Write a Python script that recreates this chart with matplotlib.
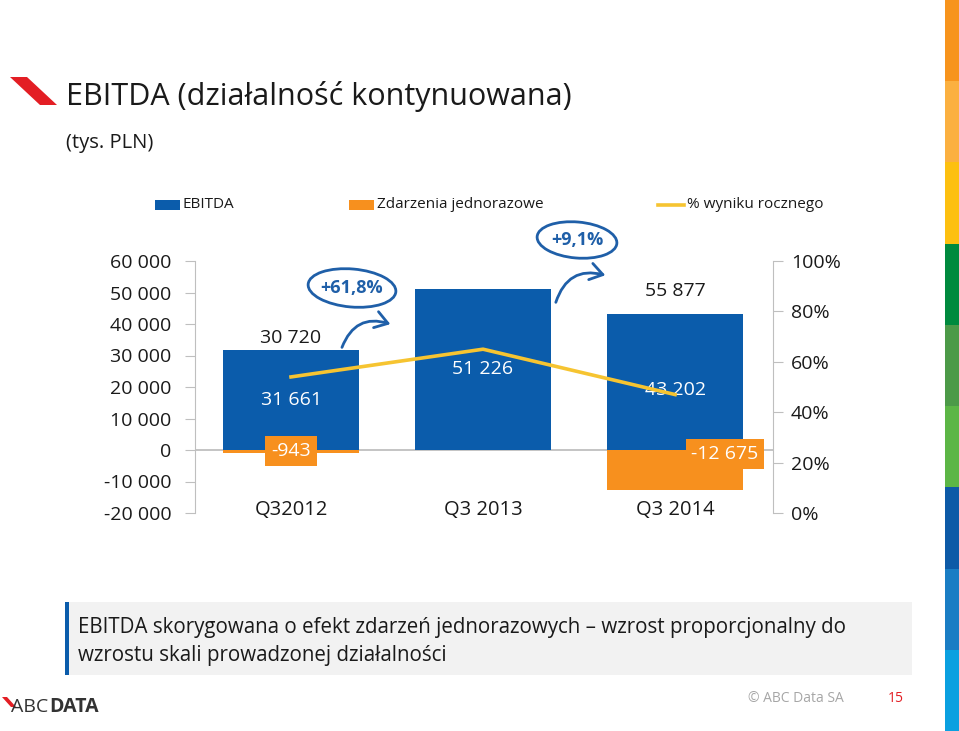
import matplotlib.pyplot as plt
from matplotlib.patches import Rectangle, Polygon, Ellipse, FancyArrowPatch
from matplotlib.ticker import FuncFormatter

# data (tys. PLN)
quarters = ["Q32012", "Q3 2013", "Q3 2014"]
ebitda = [31661, 51226, 43202]
one_off = [-943, 0, -12675]
top_labels = ["30 720", "", "55 877"]
annual_share = [0.54, 0.65, 0.47]
growth = ["+61,8%", "+9,1%"]

BLUE = "#0B5CAB"
ORANGE = "#F7901E"
YELLOW = "#F6C431"
GRAY = "#BFBFBF"
TXT = "#1A1A1A"
ANN = "#1F5FA8"

plt.rcParams["font.family"] = ["Open Sans", "DejaVu Sans"]

W, H = 959, 731
fig = plt.figure(figsize=(W / 100, H / 100), dpi=100)


def box(x0, y0, x1, y1):
    # pixel box (top-left origin) -> figure fraction rect
    return [x0 / W, 1 - y1 / H, (x1 - x0) / W, (y1 - y0) / H]


def fmt(v):
    return f"{v:,}".replace(",", " ")


# ---- main chart ----
ax = fig.add_axes(box(195, 261, 773, 513))
x = list(range(len(quarters)))
ax.bar(x, one_off, width=0.71, color=ORANGE, zorder=2)
ax.bar(x, ebitda, width=0.71, color=BLUE, zorder=2)
ax.axhline(0, color=GRAY, lw=1.3, zorder=1)
ax.set_xlim(-0.5, 2.51)
ax.set_ylim(-20000, 60000)
ax.set_yticks(range(-20000, 60001, 10000))
ax.yaxis.set_major_formatter(FuncFormatter(lambda v, p: fmt(int(v))))
ax.set_xticks([])
for s in ["top", "bottom", "right"]:
    ax.spines[s].set_visible(False)
ax.spines["left"].set_color(GRAY)
ax.tick_params(axis="y", direction="out", length=7, color=GRAY,
               labelsize=14, labelcolor=TXT, pad=10)

# value labels
for i in x:
    ax.text(i, ebitda[i] / 2 - (2500 if i == 2 else 0), fmt(ebitda[i]),
            ha="center", va="center", color="white", fontsize=14, zorder=4)
    if top_labels[i]:
        ax.annotate(top_labels[i], (i, ebitda[i]), xytext=(0, 8.6 if i == 0 else 16.5),
                    textcoords="offset points", ha="center", va="center",
                    fontsize=14, color=TXT)
    ax.text(i, -19000, quarters[i], ha="center", va="center", fontsize=14.5, color=TXT)

ax.text(0, -300, fmt(one_off[0]), ha="center", va="center", color="white", fontsize=14,
        zorder=5, bbox=dict(boxstyle="square,pad=0.3", fc=ORANGE, ec="none"))
ax.text(2.26, -1300, fmt(one_off[2]), ha="center", va="center", color="white", fontsize=14,
        zorder=5, bbox=dict(boxstyle="square,pad=0.3", fc=ORANGE, ec="none"))

ax2 = ax.twinx()
ax2.plot(x, annual_share, color=YELLOW, lw=2.6, zorder=3)
ax2.set_ylim(0, 1)
ax2.set_yticks([0, 0.2, 0.4, 0.6, 0.8, 1.0])
ax2.yaxis.set_major_formatter(FuncFormatter(lambda v, p: f"{v * 100:.0f}%"))
for s in ["top", "bottom", "left"]:
    ax2.spines[s].set_visible(False)
ax2.spines["right"].set_color(GRAY)
ax2.tick_params(axis="y", direction="out", length=7, color=GRAY,
                labelsize=14, labelcolor=TXT, pad=6)

# ---- decorations in pixel space ----
ov = fig.add_axes([0, 0, 1, 1])
ov.set_xlim(0, W)
ov.set_ylim(H, 0)
ov.axis("off")

# title
ov.add_patch(Polygon([(10, 77), (27, 77), (57, 105), (40, 105)], closed=True,
                     fc="#E31E24", ec="none"))
ov.text(66, 97, "EBITDA (działalność kontynuowana)", fontsize=22, color=TXT, va="center")
ov.text(66, 143, "(tys. PLN)", fontsize=14.5, color=TXT, va="center")

# legend
leg = [("EBITDA", BLUE, 155), ("Zdarzenia jednorazowe", ORANGE, 349)]
for name, c, lx in leg:
    ov.add_patch(Rectangle((lx, 200), 25, 10, fc=c, ec="none"))
    ov.text(lx + 28, 205, name, fontsize=11, color=TXT, va="center")
ov.plot([658, 684], [205, 205], color=YELLOW, lw=2.6)
ov.text(687, 205, "% wyniku rocznego", fontsize=11, color=TXT, va="center")

# growth bubbles and arrows
for (cx, cy, w, h, ang), txt in zip([(352, 288, 88, 38, 5), (577, 240, 80, 36, 5)], growth):
    ov.add_patch(Ellipse((cx, cy), w, h, angle=ang, fc="none", ec=ANN, lw=2))
    ov.text(cx, cy, txt, fontsize=13, fontweight="bold", color=ANN,
            ha="center", va="center")
for p0, p1 in [((341, 350), (393, 325)), ((555, 305), (608, 276))]:
    ov.add_patch(FancyArrowPatch(p0, p1, connectionstyle="arc3,rad=-0.5",
                                 arrowstyle="->,head_length=9,head_width=6",
                                 color=ANN, lw=2))

# bottom comment box
ov.add_patch(Rectangle((65, 602), 847, 73, fc="#F2F2F2", ec="none"))
ov.add_patch(Rectangle((65, 602), 4, 73, fc="#0B5CAB", ec="none"))
ov.text(78, 628, "EBITDA skorygowana o efekt zdarzeń jednorazowych – wzrost proporcjonalny do",
        fontsize=14.8, color=TXT, va="center")
ov.text(78, 655, "wzrostu skali prowadzonej działalności", fontsize=14.8, color=TXT, va="center")

# footer
ov.add_patch(Polygon([(2, 697), (7, 697), (16, 707), (11, 707)], closed=True,
                     fc="#E31E24", ec="none"))
ov.text(11, 707, "ABC", fontsize=14, color="#333333", va="center")
ov.text(49, 707, "DATA", fontsize=14, fontweight="bold", color="#333333", va="center")
ov.text(748, 699, "© ABC Data SA", fontsize=10, color="#A6A6A6", va="center")
ov.text(888, 699, "15", fontsize=10, color="#E31E24", va="center")

# right colour strip
strip = ["#F7941D", "#FBB040", "#FDC010", "#008A3E", "#4C9A48",
         "#5CB646", "#0D5AA7", "#1A7DC4", "#0AA0E0"]
seg = H / len(strip)
for k, c in enumerate(strip):
    ov.add_patch(Rectangle((945, k * seg), 14, seg + 0.5, fc=c, ec="none"))

fig.savefig("out.png", dpi=100)
